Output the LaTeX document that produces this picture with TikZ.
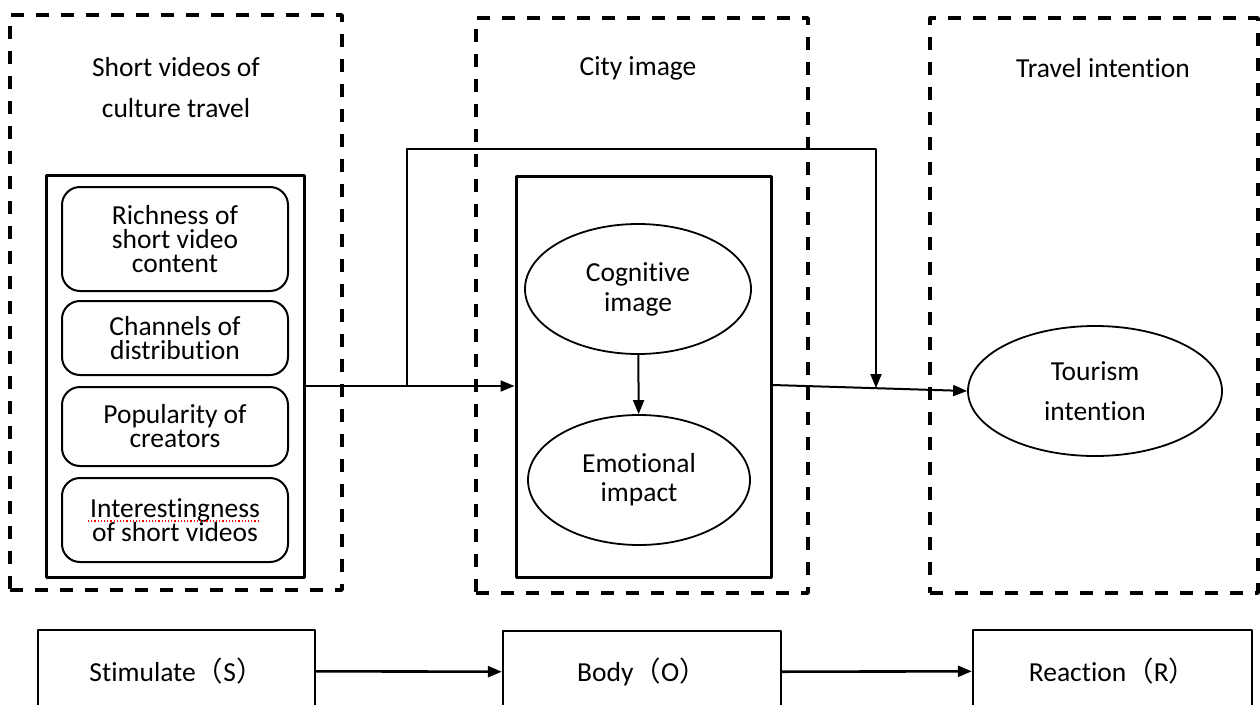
\documentclass[tikz,border=0pt]{standalone}
\usepackage{fontspec}
\setmainfont{Carlito}[Ligatures=NoCommon]
\newfontfamily\cjkfont{Noto Sans CJK SC}
\usetikzlibrary{arrows.meta,shapes.geometric}
\lineskiplimit=-100pt
\tikzset{
	dashbox/.style={draw,dash pattern=on 13pt off 12pt,line width=3.4pt,inner sep=0pt},
	solidbox/.style={draw,line width=3pt,inner sep=0pt},
	itembox/.style={draw,rounded corners=18pt,line width=2pt,minimum width=226pt,align=center,inner sep=0pt},
	oval/.style={draw,ellipse,line width=1.8pt,align=center,inner sep=0pt,minimum height=130pt},
	stagebox/.style={draw,line width=2.4pt,minimum height=82pt,inner sep=0pt},
	title/.style={align=center}
}
\begin{document}
\begin{tikzpicture}[x=1pt,y=-1pt,>={Triangle[length=14pt,width=11pt]},line join=round,line width=2pt,font=\fontsize{27.5}{24}\selectfont]
	\useasboundingbox (0,0) rectangle (1260,704);
	\clip (0,0) rectangle (1260,704);
	% dashed panels and their titles
	\node[dashbox,minimum width=332pt,minimum height=575pt] (stim) at (176,302.5) {};
	\node[dashbox,minimum width=332pt,minimum height=575pt] (city) at (642,305.5) {};
	\node[dashbox,minimum width=328pt,minimum height=575pt] (trav) at (1094,305.5) {};
	\node[title] (t1) at (176,88) {Short videos of\\[17pt]culture travel};
	\node[title] (t2) at (638,68) {City image};
	\node[title] (t3) at (1103,68) {Travel intention};
	% inner frames
	\node[solidbox,minimum width=258pt,minimum height=402pt] (in1) at (175,376) {};
	\node[solidbox,minimum width=255pt,minimum height=401pt] (in2) at (643.5,376.5) {};
	\foreach \n/\y/\h/\t in {b1/239/104/{Richness of\\short video\\content},
		b2/338/74/{Channels of\\distribution},
		b3/426.5/79/{Popularity of\\creators},
		b4/520/84/{Interestingness\\of short videos}}
	\node[itembox,minimum height=\h pt] (\n) at (175,\y) {\t};
	\draw[red,dotted,line width=1.2pt] (88,521) -- (260,521);
	% ellipses
	\node[oval,minimum width=226pt] (cog) at (638,289) {Cognitive\\[6pt]image};
	\node[oval,minimum width=222pt] (emo) at (639,480) {Emotional\\[5pt]impact};
	\node[oval,minimum width=254pt] (tour) at (1095,391) {Tourism\\[16pt]intention};
	% S-O-R boxes
	\node[stagebox,minimum width=277pt] (s) at (176.5,671) {Stimulate{\cjkfont （}S{\cjkfont ）}};
	\node[stagebox,minimum width=278pt] (o) at (642,672) {Body{\cjkfont （}O{\cjkfont ）}};
	\node[stagebox,minimum width=279pt] (r) at (1112.5,671) {Reaction{\cjkfont （}R{\cjkfont ）}};
	% connectors
	\path (407,386) coordinate (split)
	(876,388) coordinate (join);
	\draw (in1.east |- split) -- (split);
	\draw[->] (split) -- (in2.west |- split);
	\draw[->] (split) -- ++(0,-237) -| (join);
	\draw[->] ([yshift=-8.5pt]in2.east) -- (tour.west);
	\draw[->] (cog) -- (emo);
	\draw[->,line width=2.6pt] (s) -- (o);
	\draw[->,line width=2.6pt] (o) -- (r);
\end{tikzpicture}
\end{document}
